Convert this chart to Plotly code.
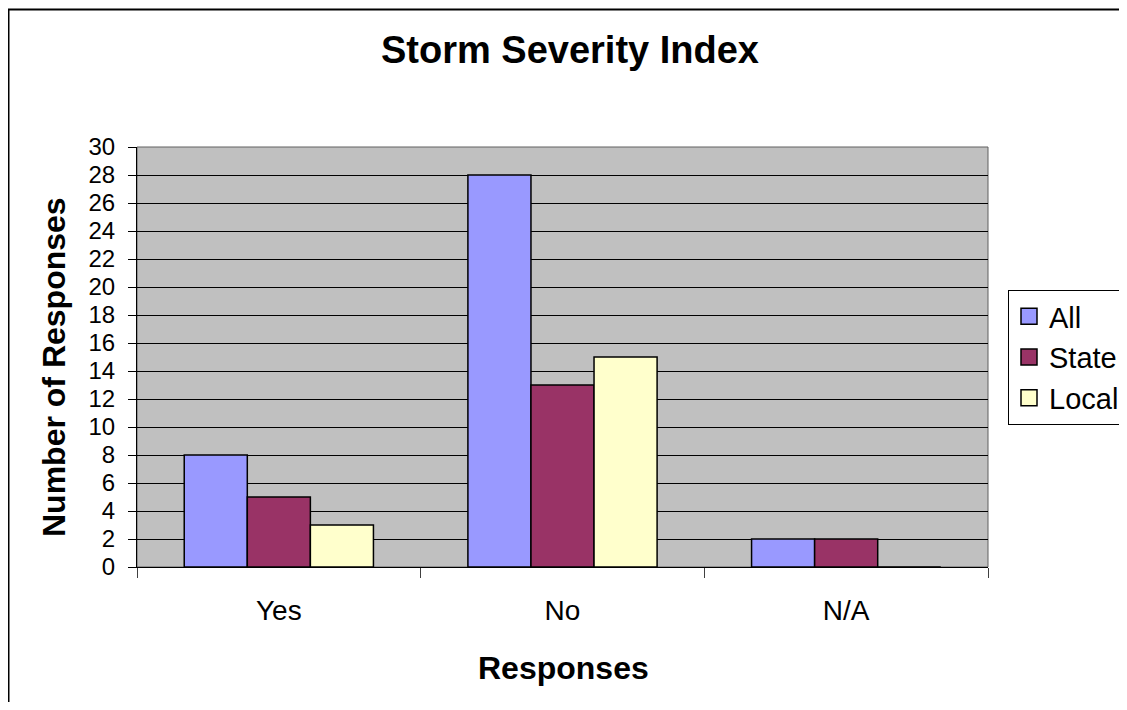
import plotly.graph_objects as go

categories = ["Yes", "No", "N/A"]
all_vals = [8, 28, 2]
state_vals = [5, 13, 2]
local_vals = [3, 15, 0]
y_ticks = list(range(0, 31, 2))

# figure sits at page offset (8, 8) because of the default body margin
W, H = 1119, 694
ML, MT = 129, 139
PW, PH = 851, 420
MR, MB = W - ML - PW, H - MT - PH

font = "Liberation Sans, Arial, sans-serif"
series = [("All", all_vals, "#9999FF"),
          ("State", state_vals, "#993366"),
          ("Local", local_vals, "#FFFFCC")]

fig = go.Figure()
for name, vals, col in series:
    fig.add_trace(go.Bar(name=name, x=categories, y=vals, marker_color=col,
                         marker_line_color="black", marker_line_width=1.5,
                         showlegend=False, legendgroup=name))
for name, vals, col in series:
    fig.add_trace(go.Scatter(name=name, x=[None], y=[None], mode="markers",
                             marker=dict(symbol="square", size=18, color=col,
                                         line=dict(color="black", width=1.5)),
                             legendgroup=name, showlegend=True))

def px(xf):
    return (xf - ML) / PW

def py(yf):
    return (MT + PH - yf) / PH

fig.update_layout(
    width=W, height=H, autosize=False,
    margin=dict(l=ML, r=MR, t=MT, b=MB, autoexpand=False),
    paper_bgcolor="white", plot_bgcolor="#C0C0C0",
    font=dict(family=font, size=24, color="black"),
    barmode="group", bargap=0.333, bargroupgap=0,
    title=dict(text="<b>Storm Severity Index</b>", x=562 / W, xanchor="center",
               y=1 - 42 / H, yanchor="middle", font=dict(size=38)),
    legend=dict(xref="container", yref="container",
                x=1000 / W, xanchor="left", y=1 - 282 / H, yanchor="top",
                bordercolor="black", borderwidth=1, bgcolor="white",
                font=dict(size=29), itemwidth=30, tracegroupgap=7,
                traceorder="normal"),
    xaxis=dict(tickson="boundaries", ticks="outside", ticklen=10, tickcolor="#404040",
               showline=True, linecolor="black", linewidth=1, showgrid=False,
               tickfont=dict(size=28), ticklabelstandoff=18),
    yaxis=dict(range=[0, 30], tickvals=y_ticks, ticks="outside", ticklen=8, tickcolor="black",
               showline=True, linecolor="black", linewidth=1,
               showgrid=True, gridcolor="black", gridwidth=1, zeroline=False,
               tickfont=dict(size=24), ticklabelstandoff=8),
    annotations=[
        dict(text="<b>Responses</b>", xref="paper", yref="paper",
             x=px(555), y=py(660), xanchor="center", yanchor="middle",
             showarrow=False, font=dict(size=32)),
        dict(text="<b>Number of Responses</b>", xref="paper", yref="paper",
             x=px(46), y=py(359), xanchor="center", yanchor="middle",
             textangle=-90, showarrow=False, font=dict(size=32)),
    ],
    shapes=[
        dict(type="rect", xref="paper", yref="paper", x0=0, x1=1, y0=0, y1=1,
             line=dict(color="#606060", width=1), layer="below"),
        dict(type="rect", xref="paper", yref="paper",
             x0=px(0.5), x1=px(W + 20), y0=py(H + 20), y1=py(1.5),
             line=dict(color="black", width=2)),
    ],
)
fig.write_html("out.html")
